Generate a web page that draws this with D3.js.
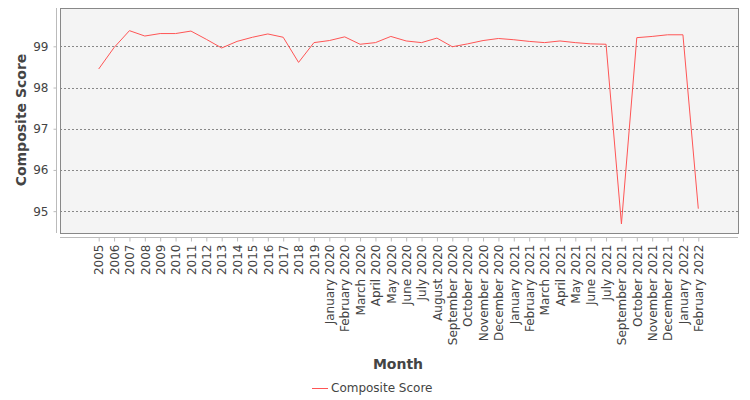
<!DOCTYPE html>
<html>
<head>
    <script src="https://d3js.org/d3.v7.min.js"></script>
    <style>
        body { margin: 0; background: #fff; }
        text { font-family: "DejaVu Sans", sans-serif; }
    </style>
</head>
<body>
    <div id="chart"></div>
    <script>
        // Chart data
        const months = [
            "2005", "2006", "2007", "2008", "2009", "2010", "2011", "2012", "2013", "2014",
            "2015", "2016", "2017", "2018", "2019",
            "January 2020", "February 2020", "March 2020", "April 2020", "May 2020", "June 2020",
            "July 2020", "August 2020", "September 2020", "October 2020", "November 2020", "December 2020",
            "January 2021", "February 2021", "March 2021", "April 2021", "May 2021", "June 2021", "July 2021",
            "September 2021", "October 2021", "November 2021", "December 2021",
            "January 2022", "February 2022"
        ];
        const compositeScore = [
            98.45, 98.97, 99.38, 99.25, 99.31, 99.31, 99.37, 99.17, 98.96, 99.12,
            99.22, 99.30, 99.22, 98.61, 99.09,
            99.14, 99.23, 99.05, 99.09, 99.24, 99.13,
            99.09, 99.20, 98.99, 99.06, 99.14, 99.19,
            99.16, 99.12, 99.09, 99.13, 99.09, 99.06, 99.05,
            94.69, 99.21, 99.24, 99.28,
            99.28, 95.06
        ];
        const yTicks = [95, 96, 97, 98, 99];

        const width = 750, height = 400;
        const plot = { left: 60, right: 738, top: 8, bottom: 233 };

        const svg = d3.select("#chart")
            .append("svg")
            .attr("width", width)
            .attr("height", height);

        const x = d3.scalePoint()
            .domain(months)
            .range([98.7, 698.3]);

        const y = d3.scaleLinear()
            .domain([94.47, 99.93])
            .range([plot.bottom, plot.top]);

        // Plot background
        svg.append("rect")
            .attr("x", plot.left)
            .attr("y", plot.top)
            .attr("width", plot.right - plot.left)
            .attr("height", plot.bottom - plot.top)
            .style("fill", "#f4f4f4");

        // Gridlines
        svg.append("g")
            .selectAll("line")
            .data(yTicks)
            .enter()
            .append("line")
            .attr("x1", plot.left)
            .attr("x2", plot.right)
            .attr("y1", d => Math.round(y(d)) + 0.5)
            .attr("y2", d => Math.round(y(d)) + 0.5)
            .style("stroke", "#888")
            .style("stroke-width", 1)
            .style("stroke-dasharray", "2,2");

        // Plot border
        svg.append("rect")
            .attr("x", plot.left + 0.5)
            .attr("y", plot.top + 0.5)
            .attr("width", plot.right - plot.left)
            .attr("height", plot.bottom - plot.top)
            .style("fill", "none")
            .style("stroke", "#888")
            .style("stroke-width", 1);

        // Y axis
        const yAxis = svg.append("g")
            .attr("transform", "translate(56.5,0)")
            .call(d3.axisLeft(y).tickValues(yTicks).tickSize(3).tickPadding(5).tickFormat(d3.format("d")));
        yAxis.select(".domain")
            .attr("d", `M0,${plot.top}V${plot.bottom}`)
            .style("stroke", "#bbb");
        yAxis.selectAll(".tick line").style("stroke", "#bbb");
        yAxis.selectAll("text")
            .style("font-size", "12px")
            .style("fill", "#444");

        // X axis
        const xAxis = svg.append("g")
            .attr("transform", "translate(0,237.5)")
            .call(d3.axisBottom(x).tickSize(4).tickPadding(3));
        xAxis.select(".domain")
            .attr("d", `M${plot.left},0H${plot.right}`)
            .style("stroke", "#bbb");
        xAxis.selectAll(".tick line").style("stroke", "#bbb");
        xAxis.selectAll("text")
            .attr("transform", "rotate(-90)")
            .attr("x", -7)
            .attr("y", 0)
            .attr("dy", "0.35em")
            .style("text-anchor", "end")
            .style("font-size", "12px")
            .style("fill", "#444");

        // Line
        const line = d3.line()
            .x((d, i) => x(months[i]))
            .y(d => y(d));

        svg.append("path")
            .datum(compositeScore)
            .attr("d", line)
            .style("fill", "none")
            .style("stroke", "#ff5555")
            .style("stroke-width", 1);

        // Axis titles
        svg.append("text")
            .attr("transform", "translate(26,120) rotate(-90)")
            .style("text-anchor", "middle")
            .style("font-size", "14px")
            .style("font-weight", "bold")
            .style("fill", "#444")
            .text("Composite Score");

        svg.append("text")
            .attr("x", 398)
            .attr("y", 369)
            .style("text-anchor", "middle")
            .style("font-size", "14px")
            .style("font-weight", "bold")
            .style("fill", "#444")
            .text("Month");

        // Legend
        svg.append("line")
            .attr("x1", 312)
            .attr("x2", 328)
            .attr("y1", 388.5)
            .attr("y2", 388.5)
            .style("stroke", "#ff5555")
            .style("stroke-width", 1);

        svg.append("text")
            .attr("x", 331)
            .attr("y", 392)
            .style("font-size", "12px")
            .style("fill", "#444")
            .text("Composite Score");
    </script>
</body>
</html>
